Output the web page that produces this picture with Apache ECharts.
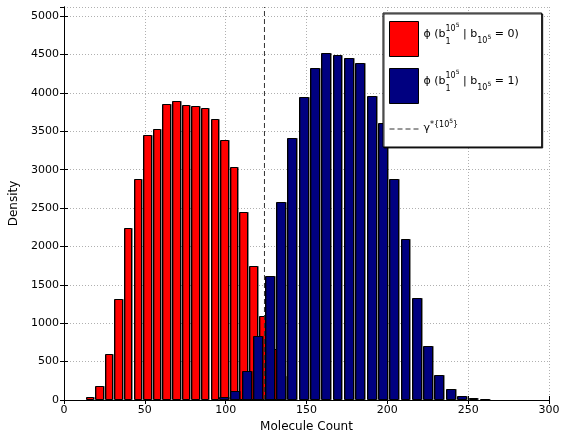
<!DOCTYPE html>
<html>
<head>
<meta charset="utf-8">
<script src="https://cdn.jsdelivr.net/npm/echarts@6/dist/echarts.min.js"></script>
<style>
  html, body { margin: 0; padding: 0; background: #fff; }
  #chart { width: 564px; height: 433px; }
</style>
</head>
<body>
<div id="chart"></div>
<script>
// Histogram of molecule counts given bit 0 (red) and bit 1 (blue)
const redCenters  = [15.9, 21.9, 27.8, 33.8, 39.7, 45.7, 51.6, 57.6, 63.5, 69.5, 75.4,
                     81.4, 87.3, 93.3, 99.2, 105.2, 111.1, 117.1, 123.0, 129.0, 134.9];
const redValues   = [35, 187, 599, 1319, 2235, 2873, 3446, 3529, 3850, 3893, 3846,
                     3824, 3802, 3655, 3381, 3030, 2444, 1745, 1094, 660, 312];
const blueCenters = [99.0, 106.0, 113.1, 120.1, 127.2, 134.1, 141.2, 148.2, 155.2, 162.2,
                     169.2, 176.3, 183.3, 190.3, 197.2, 204.2, 211.2, 218.2, 225.2, 232.2,
                     239.3, 246.3, 253.3, 260.3];
const blueValues  = [35, 117, 378, 833, 1615, 2582, 3407, 3941, 4319, 4527,
                     4501, 4453, 4384, 3967, 3603, 2878, 2101, 1324, 700, 326,
                     143, 52, 22, 5];
// decision threshold gamma*
const gammaValue = 124;

const xRange = [0, 300], xStep = 50;
const yRange = [0, 5120], yStep = 500;

const RED_NAME = 'phi0', BLUE_NAME = 'phi1', GAMMA_NAME = 'gamma';
const FONT = '"DejaVu Sans", "Liberation Sans", Arial, sans-serif';

function barRenderer(binWidth, fill) {
  return function (params, api) {
    const x = api.value(0), y = api.value(1);
    const a = api.coord([x - binWidth / 2, y]);
    const b = api.coord([x + binWidth / 2, 0]);
    const x0 = Math.round(a[0]) + 0.5, x1 = Math.round(b[0]) - 0.5;
    const y0 = Math.round(a[1]) + 0.5, y1 = Math.round(b[1]) - 0.5;
    return {
      type: 'rect',
      shape: { x: x0, y: Math.min(y0, y1), width: x1 - x0, height: Math.max(0, y1 - y0) },
      style: {
        fill: fill, stroke: '#000', lineWidth: 1,
        shadowColor: 'rgba(0,0,0,0.35)', shadowOffsetX: 1, shadowOffsetY: 0, shadowBlur: 0
      }
    };
  };
}

const legendText = {};
legendText[RED_NAME]  = '{m|ϕ (b}{sb|1}{sp|10}{ssp|5}{m| | b}{sb2|10}{ssb|5}{m| = 0)}';
legendText[BLUE_NAME] = '{m|ϕ (b}{sb|1}{sp|10}{ssp|5}{m| | b}{sb2|10}{ssb|5}{m| = 1)}';
legendText[GAMMA_NAME] = '{g|γ}{gs|*{10}{gss|5}}\n{pad| }';

const gridLine = { show: true, lineStyle: { color: '#b0b0b0', width: 1, type: [1, 2] } };
const blackLine = { show: true, lineStyle: { color: '#000', width: 1 } };
const inTicks = { show: true, inside: true, length: 4, lineStyle: { color: '#000' } };

const chart = echarts.init(document.getElementById('chart'), null, { renderer: 'canvas' });
chart.setOption({
  animation: false,
  backgroundColor: '#fff',
  grid: { left: 64, right: 15, top: 7, bottom: 33, containLabel: false, outerBoundsMode: 'none' },
  xAxis: [
    {
      type: 'value', position: 'bottom', min: xRange[0], max: xRange[1], interval: xStep,
      axisLine: blackLine, axisTick: inTicks, splitLine: gridLine,
      axisLabel: { color: '#000', fontSize: 11, fontFamily: FONT, margin: 5 },
      name: 'Molecule Count', nameLocation: 'middle', nameGap: 17,
      nameTextStyle: { color: '#000', fontSize: 12, fontFamily: FONT }
    },
    {
      type: 'value', position: 'top', min: xRange[0], max: xRange[1], interval: xStep,
      axisLine: blackLine, axisTick: inTicks, splitLine: { show: false },
      axisLabel: { show: false }
    }
  ],
  yAxis: [
    {
      type: 'value', position: 'left', min: yRange[0], max: yRange[1], interval: yStep,
      axisLine: blackLine, axisTick: inTicks, splitLine: gridLine,
      axisLabel: {
        color: '#000', fontSize: 11, fontFamily: FONT, margin: 5, showMaxLabel: false,
        formatter: function (v) { return String(v); }
      },
      name: 'Density', nameLocation: 'middle', nameGap: 34,
      nameTextStyle: { color: '#000', fontSize: 12, fontFamily: FONT }
    },
    {
      type: 'value', position: 'right', min: yRange[0], max: yRange[1], interval: yStep,
      axisLine: blackLine, axisTick: inTicks, splitLine: { show: false },
      axisLabel: { show: false }
    }
  ],
  legend: {
    orient: 'vertical', left: 383, top: 13,
    padding: [8, 23, 4, 6], itemWidth: 29, itemHeight: 35, itemGap: 11,
    backgroundColor: '#fff', borderColor: '#000', borderWidth: 1,
    shadowColor: 'rgba(0,0,0,0.8)', shadowOffsetX: 1, shadowOffsetY: 1, shadowBlur: 0,
    selectedMode: false,
    lineStyle: { width: 1 },
    data: [
      { name: RED_NAME, icon: 'rect', itemStyle: { color: '#ff0000', borderColor: '#000', borderWidth: 1 } },
      { name: BLUE_NAME, icon: 'rect', itemStyle: { color: '#000080', borderColor: '#000', borderWidth: 1 } },
      { name: GAMMA_NAME, itemStyle: { opacity: 0 } }
    ],
    formatter: function (name) { return legendText[name]; },
    textStyle: {
      color: '#000', fontFamily: FONT, fontSize: 8,
      rich: {
        m:   { fontSize: 11, height: 11, lineHeight: 34, padding: [7, 0, 0, 0], verticalAlign: 'top', fontFamily: FONT, color: '#000' },
        sp:  { fontSize: 8, height: 8, padding: [3, 0, 0, 0], verticalAlign: 'top', fontFamily: FONT, color: '#000' },
        ssp: { fontSize: 6, height: 6, padding: [0, 0, 0, 0], verticalAlign: 'top', fontFamily: FONT, color: '#000' },
        sb:  { fontSize: 8, height: 8, width: 0, padding: [16, 0, 0, 0], verticalAlign: 'top', fontFamily: FONT, color: '#000' },
        sb2: { fontSize: 8, height: 8, padding: [15, 0, 0, 0], verticalAlign: 'top', fontFamily: FONT, color: '#000' },
        ssb: { fontSize: 6, height: 6, padding: [12, 0, 0, 0], verticalAlign: 'top', fontFamily: FONT, color: '#000' },
        g:   { fontSize: 11, height: 11, lineHeight: 20, padding: [8, 0, 0, 0], verticalAlign: 'top', fontFamily: FONT, color: '#000' },
        gs:  { fontSize: 8, height: 8, padding: [6, 0, 0, 0], verticalAlign: 'top', fontFamily: FONT, color: '#000' },
        gss: { fontSize: 6, height: 6, padding: [3, 0, 0, 0], verticalAlign: 'top', fontFamily: FONT, color: '#000' },
        pad: { fontSize: 6, height: 8, lineHeight: 8, fontFamily: FONT, color: '#000' }
      }
    }
  },
  series: [
    {
      name: RED_NAME, type: 'custom', xAxisIndex: 0, yAxisIndex: 0, z: 2,
      itemStyle: { color: '#ff0000', borderColor: '#000', borderWidth: 1 },
      encode: { x: 0, y: 1 },
      renderItem: barRenderer(5.2, '#ff0000'),
      data: redCenters.map(function (c, i) { return [c, redValues[i]]; })
    },
    {
      name: BLUE_NAME, type: 'custom', xAxisIndex: 0, yAxisIndex: 0, z: 3,
      itemStyle: { color: '#000080', borderColor: '#000', borderWidth: 1 },
      encode: { x: 0, y: 1 },
      renderItem: barRenderer(6.1, '#000080'),
      data: blueCenters.map(function (c, i) { return [c, blueValues[i]]; })
    },
    {
      name: GAMMA_NAME, type: 'line', xAxisIndex: 0, yAxisIndex: 0, z: 4,
      symbol: 'none', silent: true,
      lineStyle: { color: '#333', width: 1, type: [5, 3] },
      itemStyle: { color: '#333' },
      data: [[gammaValue, yRange[0]], [gammaValue, yRange[1]]]
    }
  ]
});
</script>
</body>
</html>
